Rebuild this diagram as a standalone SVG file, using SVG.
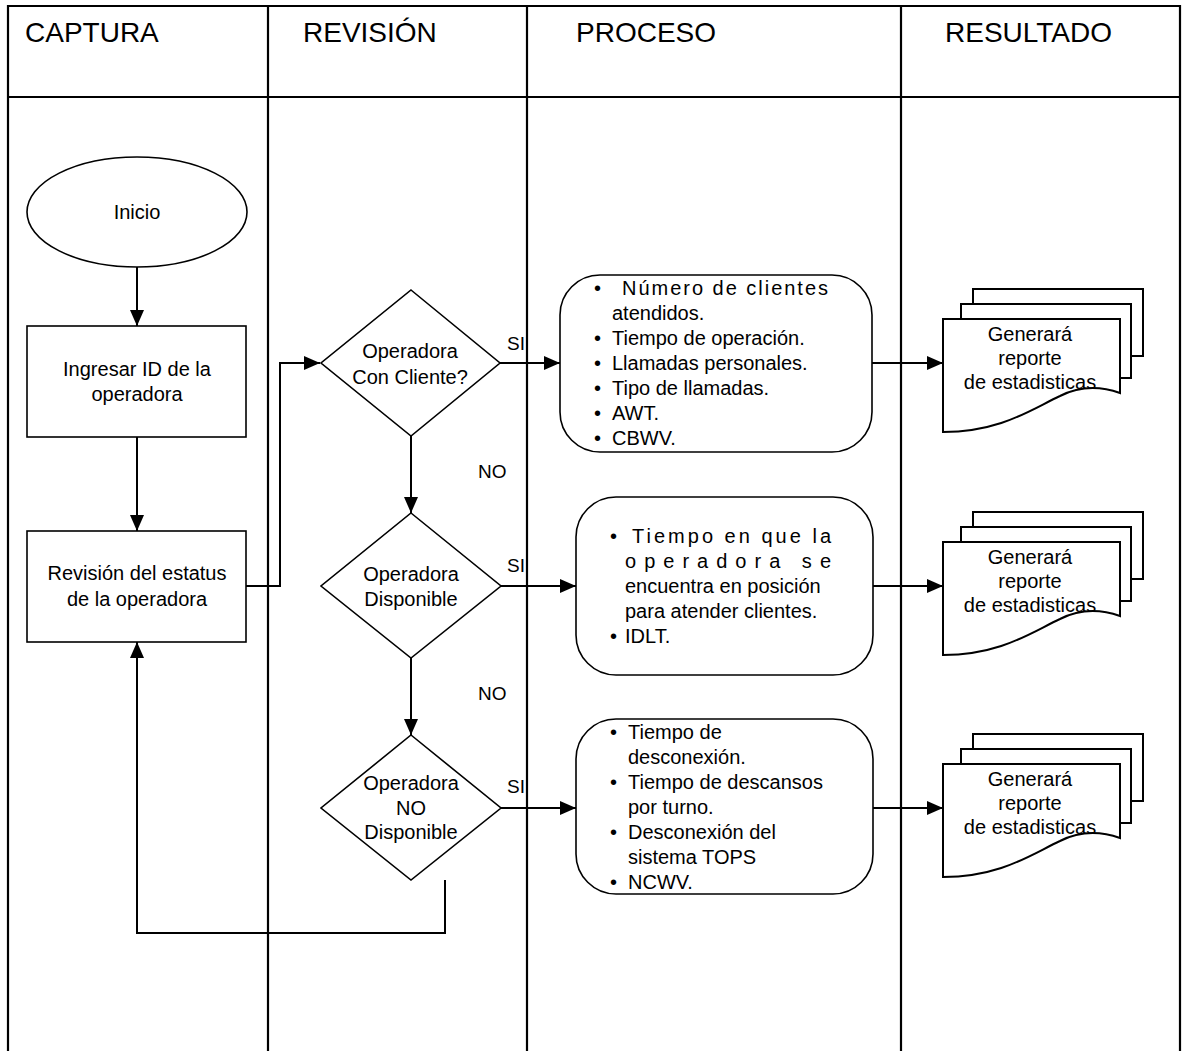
<svg xmlns="http://www.w3.org/2000/svg" width="1183" height="1051" viewBox="0 0 1183 1051">
  <style>
    text { font-family: "Liberation Sans", Arial, sans-serif; fill: #000; }
    .hdr { font-size: 28px; }
    .lbl { font-size: 20px; text-anchor: middle; }
    .itm { font-size: 20px; }
    .tag { font-size: 19px; }
    .lane { stroke: #000; stroke-width: 2.2; fill: none; }
    .shape { stroke: #000; stroke-width: 1.6; fill: #fff; }
    .page { stroke: #000; stroke-width: 2; fill: #fff; }
    .wire { stroke: #000; stroke-width: 2; fill: none; }
  </style>
  <defs>
    <marker id="arrow" markerUnits="userSpaceOnUse" markerWidth="16" markerHeight="14" viewBox="0 0 16 14" refX="16" refY="7" orient="auto">
      <path d="M0,0 L16,7 L0,14 z" fill="#000"/>
    </marker>
    <!-- stacked report pages, drawn at the position of the first report -->
    <g id="docstack">
      <rect class="page" x="973" y="289" width="170" height="67"/>
      <rect class="page" x="961" y="304" width="170" height="74"/>
      <path class="page" d="M943,319 H1120 V393 C1100,386 1080,386 1060,396 C1030,410 1000,432 943,432 Z"/>
    </g>
  </defs>

  <rect width="1183" height="1051" fill="#fff"/>

  <!-- swimlanes -->
  <g id="lanes">
    <path class="lane" d="M8,1051 V6 H1180 V1051"/>
    <line class="lane" x1="8" y1="97" x2="1180" y2="97"/>
    <line class="lane" x1="268" y1="6" x2="268" y2="1051"/>
    <line class="lane" x1="527" y1="6" x2="527" y2="1051"/>
    <line class="lane" x1="901" y1="6" x2="901" y2="1051"/>
    <text class="hdr" x="25" y="42">CAPTURA</text>
    <text class="hdr" x="303" y="42">REVISIÓN</text>
    <text class="hdr" x="576" y="42">PROCESO</text>
    <text class="hdr" x="945" y="42">RESULTADO</text>
  </g>

  <!-- connectors -->
  <g id="connectors">
    <line class="wire" x1="137" y1="267" x2="137" y2="326" marker-end="url(#arrow)"/>
    <line class="wire" x1="137" y1="437" x2="137" y2="531" marker-end="url(#arrow)"/>
    <polyline class="wire" points="246,586 280,586 280,363 320,363" marker-end="url(#arrow)"/>
    <line class="wire" x1="500" y1="363" x2="560" y2="363" marker-end="url(#arrow)"/>
    <line class="wire" x1="411" y1="436" x2="411" y2="513" marker-end="url(#arrow)"/>
    <line class="wire" x1="501" y1="586" x2="576" y2="586" marker-end="url(#arrow)"/>
    <line class="wire" x1="411" y1="658" x2="411" y2="735" marker-end="url(#arrow)"/>
    <line class="wire" x1="501" y1="808" x2="576" y2="808" marker-end="url(#arrow)"/>
    <polyline class="wire" points="445,880 445,933 137,933 137,642" marker-end="url(#arrow)"/>
    <line class="wire" x1="872" y1="363" x2="943" y2="363" marker-end="url(#arrow)"/>
    <line class="wire" x1="873" y1="586" x2="943" y2="586" marker-end="url(#arrow)"/>
    <line class="wire" x1="873" y1="808" x2="943" y2="808" marker-end="url(#arrow)"/>
    <text class="tag" x="507" y="350">SI</text>
    <text class="tag" x="478" y="478">NO</text>
    <text class="tag" x="507" y="572">SI</text>
    <text class="tag" x="478" y="700">NO</text>
    <text class="tag" x="507" y="793">SI</text>
  </g>

  <g id="inicio">
    <ellipse class="shape" cx="137" cy="212" rx="110" ry="55"/>
    <text class="lbl" x="137" y="219">Inicio</text>
  </g>

  <g id="ingresar-id">
    <rect class="shape" x="27" y="326" width="219" height="111"/>
    <text class="lbl" x="137" y="376">Ingresar ID de la</text>
    <text class="lbl" x="137" y="401">operadora</text>
  </g>

  <g id="revision-estatus">
    <rect class="shape" x="27" y="531" width="219" height="111"/>
    <text class="lbl" x="137" y="580">Revisión del estatus</text>
    <text class="lbl" x="137" y="606">de la operadora</text>
  </g>

  <g id="con-cliente">
    <polygon class="shape" points="411,290 500,363 411,436 321,363"/>
    <text class="lbl" x="410" y="358">Operadora</text>
    <text class="lbl" x="410" y="384">Con Cliente?</text>
  </g>

  <g id="disponible">
    <polygon class="shape" points="411,513 501,586 411,658 321,586"/>
    <text class="lbl" x="411" y="581">Operadora</text>
    <text class="lbl" x="411" y="606">Disponible</text>
  </g>

  <g id="no-disponible">
    <polygon class="shape" points="411,735 501,808 411,880 321,808"/>
    <text class="lbl" x="411" y="790">Operadora</text>
    <text class="lbl" x="411" y="815">NO</text>
    <text class="lbl" x="411" y="839">Disponible</text>
  </g>

  <g id="datos-con-cliente">
    <rect class="shape" x="560" y="275" width="312" height="177" rx="40" ry="40"/>
    <text class="itm" x="594" y="295">•</text>
    <text class="itm" x="622" y="295" textLength="206" lengthAdjust="spacing">Número de clientes</text>
    <text class="itm" x="612" y="320">atendidos.</text>
    <text class="itm" x="594" y="345">•</text>
    <text class="itm" x="612" y="345">Tiempo de operación.</text>
    <text class="itm" x="594" y="370">•</text>
    <text class="itm" x="612" y="370">Llamadas personales.</text>
    <text class="itm" x="594" y="395">•</text>
    <text class="itm" x="612" y="395">Tipo de llamadas.</text>
    <text class="itm" x="594" y="420">•</text>
    <text class="itm" x="612" y="420">AWT.</text>
    <text class="itm" x="594" y="445">•</text>
    <text class="itm" x="612" y="445">CBWV.</text>
  </g>

  <g id="datos-disponible">
    <rect class="shape" x="576" y="497" width="297" height="178" rx="40" ry="40"/>
    <text class="itm" x="610" y="543">•</text>
    <text class="itm" x="632" y="543" textLength="199" lengthAdjust="spacing">Tiempo en que la</text>
    <text class="itm" x="625" y="568" textLength="206" lengthAdjust="spacing">operadora se</text>
    <text class="itm" x="625" y="593">encuentra en posición</text>
    <text class="itm" x="625" y="618">para atender clientes.</text>
    <text class="itm" x="610" y="643">•</text>
    <text class="itm" x="625" y="643">IDLT.</text>
  </g>

  <g id="datos-no-disponible">
    <rect class="shape" x="576" y="719" width="297" height="175" rx="40" ry="40"/>
    <text class="itm" x="610" y="739">•</text>
    <text class="itm" x="628" y="739">Tiempo de</text>
    <text class="itm" x="628" y="764">desconexión.</text>
    <text class="itm" x="610" y="789">•</text>
    <text class="itm" x="628" y="789">Tiempo de descansos</text>
    <text class="itm" x="628" y="814">por turno.</text>
    <text class="itm" x="610" y="839">•</text>
    <text class="itm" x="628" y="839">Desconexión del</text>
    <text class="itm" x="628" y="864">sistema TOPS</text>
    <text class="itm" x="610" y="889">•</text>
    <text class="itm" x="628" y="889">NCWV.</text>
  </g>

  <g id="reporte-1">
    <use href="#docstack"/>
    <text class="lbl" x="1030" y="341">Generará</text>
    <text class="lbl" x="1030" y="365">reporte</text>
    <text class="lbl" x="1030" y="389">de estadisticas</text>
  </g>

  <g id="reporte-2">
    <use href="#docstack" transform="translate(0,223)"/>
    <text class="lbl" x="1030" y="564">Generará</text>
    <text class="lbl" x="1030" y="588">reporte</text>
    <text class="lbl" x="1030" y="612">de estadisticas</text>
  </g>

  <g id="reporte-3">
    <use href="#docstack" transform="translate(0,445)"/>
    <text class="lbl" x="1030" y="786">Generará</text>
    <text class="lbl" x="1030" y="810">reporte</text>
    <text class="lbl" x="1030" y="834">de estadisticas</text>
  </g>
</svg>
